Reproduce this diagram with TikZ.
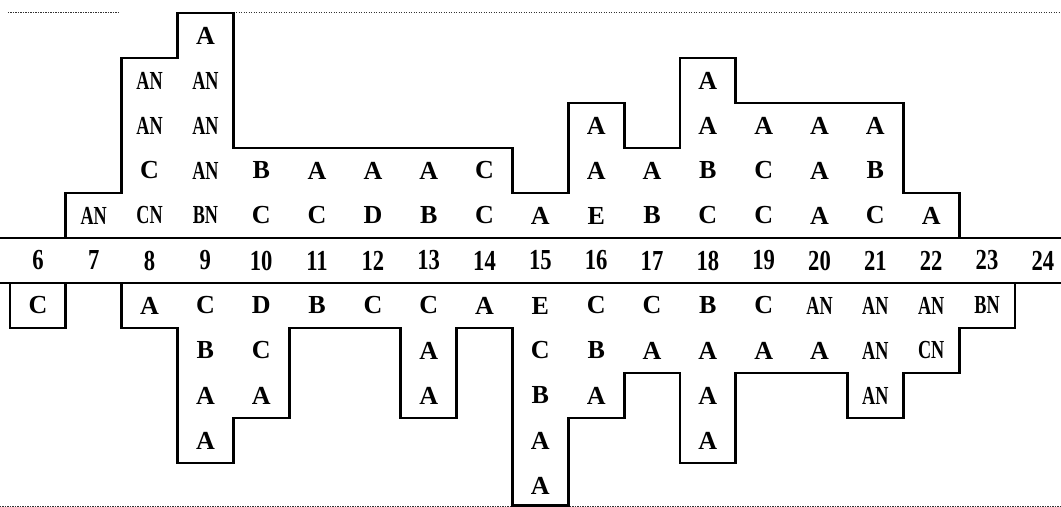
\documentclass[tikz,border=0pt]{standalone}
\usepackage{fontspec}
\setmainfont{Liberation Serif}
\usepackage{graphicx}
\newcommand{\cn}[1]{\scalebox{0.7}[1]{#1}}
\newcommand{\nm}[1]{\scalebox{0.78}[1]{#1}}
\begin{document}
\begin{tikzpicture}[x=55.83pt,y=45pt,
  outline/.style={line width=2.8pt, line join=miter, line cap=rect},
  dotline/.style={line width=1pt, black!80, dash pattern=on 1.2pt off 1.3pt},
  cell/.style={font=\fontsize{26}{26}\selectfont\bfseries, inner sep=0pt},
  num/.style={font=\fontsize{29}{29}\selectfont\bfseries, inner sep=0pt}]
\useasboundingbox (-0.1791,-5.9778) rectangle (18.8253,5.2889);

% frame lines (dotted borders)
\draw[dotline] (-0.036,5.022) -- (1.97,5.022);
\draw[dotline] (4.05,5.022) -- (18.8253,5.022);
\draw[dotline] (-0.1791,-5.956) -- (18.8253,-5.956);

% axis band
\draw[outline] (-0.1791,0) -- (18.8253,0);
\draw[outline] (-0.1791,-1) -- (18.8253,-1);

% upper outline
\draw[outline] (1,0) -- (1,1) -- (2,1) -- (2,4) -- (3,4) -- (3,5) -- (4,5)
  -- (4,2) -- (9,2) -- (9,1) -- (10,1) -- (10,3) -- (11,3) -- (11,2)
  -- (12,2) -- (12,4) -- (13,4) -- (13,3) -- (16,3) -- (16,1) -- (17,1) -- (17,0);

% lower outline
\draw[outline] (2,-1) -- (2,-2) -- (3,-2) -- (3,-5) -- (4,-5) -- (4,-4)
  -- (5,-4) -- (5,-2) -- (7,-2) -- (7,-4) -- (8,-4) -- (8,-2) -- (9,-2)
  -- (9,-5.95) -- (10,-5.95) -- (10,-4) -- (11,-4) -- (11,-3) -- (12,-3)
  -- (12,-5) -- (13,-5) -- (13,-3) -- (15,-3) -- (15,-4) -- (16,-4)
  -- (16,-3) -- (17,-3) -- (17,-2) -- (18,-2) -- (18,-1);
\draw[outline] (0,-1) rectangle (1,-2);

% column numbers
\foreach \c in {6,...,24}
  \node[num] (n-\c) at (\c-5.5,-0.5) {\nm{\c}};

% upper cells
\foreach \c/\r/\t in {7/1/\cn{AN}, 8/1/\cn{CN}, 9/1/\cn{BN}, 10/1/C, 11/1/C, 12/1/D,
  13/1/B, 14/1/C, 15/1/A, 16/1/E, 17/1/B, 18/1/C, 19/1/C, 20/1/A, 21/1/C, 22/1/A,
  8/2/C, 9/2/\cn{AN}, 10/2/B, 11/2/A, 12/2/A, 13/2/A, 14/2/C, 16/2/A, 17/2/A,
  18/2/B, 19/2/C, 20/2/A, 21/2/B,
  8/3/\cn{AN}, 9/3/\cn{AN}, 16/3/A, 18/3/A, 19/3/A, 20/3/A, 21/3/A,
  8/4/\cn{AN}, 9/4/\cn{AN}, 18/4/A,
  9/5/A}
  \node[cell] (u-\c-\r) at (\c-5.5,\r-0.5) {\t};

% lower cells
\foreach \c/\r/\t in {6/1/C, 8/1/A, 9/1/C, 10/1/D, 11/1/B, 12/1/C, 13/1/C, 14/1/A,
  15/1/E, 16/1/C, 17/1/C, 18/1/B, 19/1/C, 20/1/\cn{AN}, 21/1/\cn{AN}, 22/1/\cn{AN},
  23/1/\cn{BN},
  9/2/B, 10/2/C, 13/2/A, 15/2/C, 16/2/B, 17/2/A, 18/2/A, 19/2/A, 20/2/A,
  21/2/\cn{AN}, 22/2/\cn{CN},
  9/3/A, 10/3/A, 13/3/A, 15/3/B, 16/3/A, 18/3/A, 21/3/\cn{AN},
  9/4/A, 15/4/A, 18/4/A,
  15/5/A}
  \node[cell] (l-\c-\r) at (\c-5.5,-1-\r+0.5) {\t};
\end{tikzpicture}
\end{document}
